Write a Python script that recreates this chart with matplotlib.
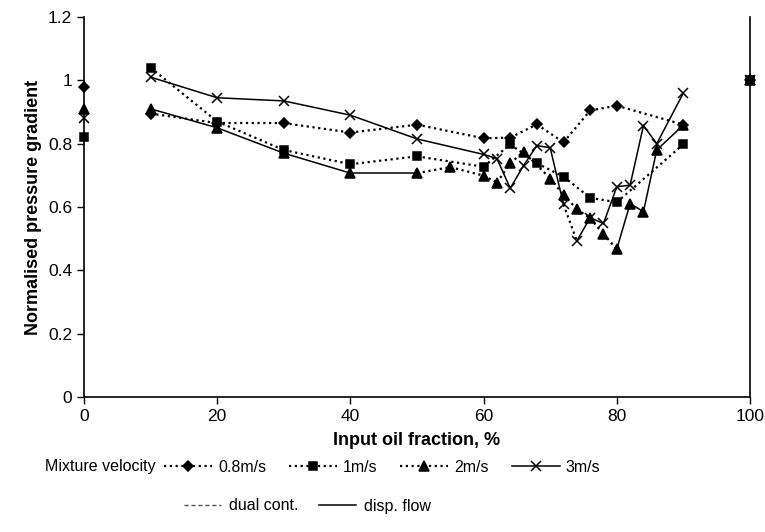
import matplotlib.pyplot as plt
from matplotlib.lines import Line2D

plt.rcParams['font.family'] = ['Liberation Sans', 'DejaVu Sans']

# input oil fraction (%) and normalised pressure gradient per mixture velocity
x_08 = [10, 20, 30, 40, 50, 60, 64, 68, 72, 76, 80, 90]
y_08 = [0.895, 0.865, 0.865, 0.835, 0.86, 0.817, 0.819, 0.861, 0.804, 0.905, 0.92, 0.86]
flow_08 = ['dc'] * 11

x_1 = [10, 20, 30, 40, 50, 60, 64, 68, 72, 76, 80, 90]
y_1 = [1.04, 0.87, 0.78, 0.735, 0.76, 0.727, 0.798, 0.738, 0.696, 0.629, 0.615, 0.798]
flow_1 = ['dc'] * 11

x_2 = [10, 20, 30, 40, 50, 55, 60, 62, 64, 66, 70, 72, 74, 76, 78, 80, 82, 84, 86, 90]
y_2 = [0.91, 0.85, 0.77, 0.707, 0.707, 0.726, 0.699, 0.677, 0.738, 0.775, 0.69, 0.638,
       0.594, 0.564, 0.515, 0.467, 0.611, 0.585, 0.78, 0.859]
flow_2 = ['df', 'df', 'df', 'df', 'dc', 'dc', 'dc', 'dc', 'dc', 'dc', 'dc', 'dc',
          'dc', 'dc', 'dc', 'df', 'df', 'df', 'df']

x_3 = [10, 20, 30, 40, 50, 60, 62, 64, 66, 68, 70, 72, 74, 76, 78, 80, 82, 84, 86, 90]
y_3 = [1.01, 0.945, 0.935, 0.89, 0.815, 0.766, 0.753, 0.659, 0.731, 0.794, 0.787, 0.608,
       0.493, 0.566, 0.548, 0.664, 0.669, 0.857, 0.80, 0.96]
flow_3 = ['df'] * 11 + ['dc'] + ['df'] * 7

# single phase end points (water at 0 %, oil at 100 %)
end_x = [0, 100]
end_08 = [0.98, 1.0]
end_1 = [0.82, 1.0]
end_2 = [0.91, 1.0]
end_3 = [0.88, 1.0]

labels = ['0.8m/s', '1m/s', '2m/s', '3m/s']

series = [
    (x_08, y_08, flow_08, end_08, 'D', 5.5),
    (x_1, y_1, flow_1, end_1, 's', 5.5),
    (x_2, y_2, flow_2, end_2, '^', 6.5),
    (x_3, y_3, flow_3, end_3, 'x', 7),
]

dc_style = dict(color='black', lw=1.6, linestyle=(0, (1, 1.6)))
df_style = dict(color='black', lw=1.1, linestyle='-')

fig = plt.figure(figsize=(7.65, 5.32), dpi=100)
ax = fig.add_axes([84 / 765, 1 - 397 / 532, 666 / 765, 380 / 532])

for xs, ys, flow, ends, mk, ms in series:
    for i in range(len(xs) - 1):
        st = dc_style if flow[i] == 'dc' else df_style
        ax.plot(xs[i:i + 2], ys[i:i + 2], **st)
    ax.plot(xs, ys, linestyle='none', marker=mk, ms=ms, color='black',
            mec='black', mew=1.1)
    ax.plot(end_x, ends, linestyle='none', marker=mk, ms=ms, color='black',
            mec='black', mew=1.1, clip_on=False, zorder=5)

ax.set_xlim(0, 100)
ax.set_ylim(0, 1.2)
ax.set_xticks([0, 20, 40, 60, 80, 100])
ax.set_yticks([0, 0.2, 0.4, 0.6, 0.8, 1.0, 1.2])
ax.set_yticklabels(['0', '0.2', '0.4', '0.6', '0.8', '1', '1.2'])
ax.tick_params(direction='out', length=5, width=1, labelsize=12.5)
ax.spines['top'].set_visible(False)
for s in ['left', 'bottom', 'right']:
    ax.spines[s].set_linewidth(1.2)

ax.set_xlabel('Input oil fraction, %', fontsize=13, fontweight='bold', labelpad=6)
ax.set_ylabel('Normalised pressure gradient', fontsize=13, fontweight='bold', labelpad=4)

# legend row 1
handles = []
for xs, ys, flow, ends, mk, ms in series:
    st = df_style if mk == 'x' else dc_style
    handles.append(Line2D([], [], marker=mk, ms=ms, color='black', mew=1.1,
                          lw=st['lw'], linestyle=st['linestyle']))

fig.text(45 / 765, 1 - 467 / 532, 'Mixture velocity', fontsize=11.5, va='center')
fig.legend(handles, labels, loc='center left', bbox_to_anchor=(150 / 765, 1 - 467 / 532),
           ncol=4, frameon=False, handlelength=3.0, columnspacing=1.45,
           handletextpad=0.35, prop={'size': 11.5})

# legend row 2
h2 = [Line2D([], [], color='#555555', lw=1, linestyle=(0, (3, 2))),
      Line2D([], [], color='black', lw=1.1, linestyle='-')]
fig.legend(h2, ['dual cont.', 'disp. flow'], loc='center left',
           bbox_to_anchor=(170 / 765, 1 - 506 / 532), ncol=2, frameon=False,
           handlelength=2.3, columnspacing=1.3, handletextpad=0.5,
           prop={'size': 11.5})

plt.savefig('out.png', dpi=100)
